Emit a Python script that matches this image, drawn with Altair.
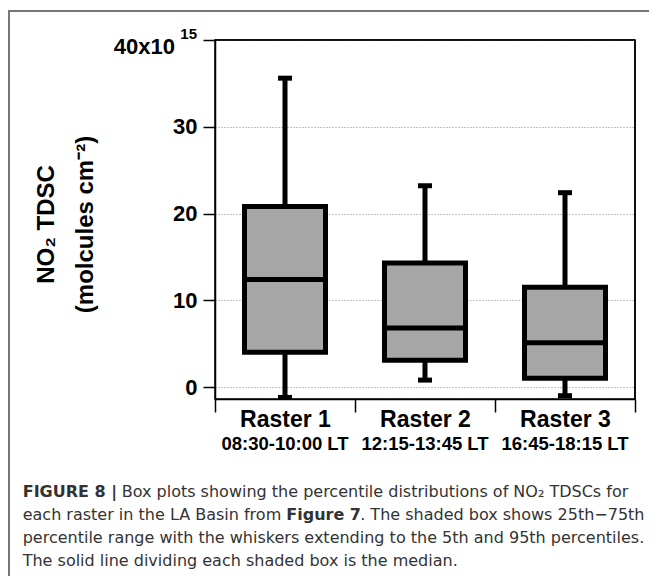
import altair as alt
import pandas as pd

# ---- data ----
rasters = ["Raster 1", "Raster 2", "Raster 3"]
times = ["08:30-10:00 LT", "12:15-13:45 LT", "16:45-18:15 LT"]
p5 = [-1.2, 0.8, -1.0]
p25 = [4.0, 3.1, 1.0]
p50 = [12.4, 6.8, 5.1]
p75 = [20.8, 14.3, 11.5]
p95 = [35.6, 23.2, 22.4]
y_ticks = [0, 10, 20, 30, 40]
y_title = ["NO₂ TDSC", "(molcules cm⁻²)"]
top_label = ["40x10", "15"]
caption_bold = ["FIGURE 8 |", "Figure 7"]
caption_text = [
    "Box plots showing the percentile distributions of NO₂ TDSCs for",
    "each raster in the LA Basin from",
    ". The shaded box shows 25th−75th",
    "percentile range with the whiskers extending to the 5th and 95th percentiles.",
    "The solid line dividing each shaded box is the median.",
]

df = pd.DataFrame({"raster": rasters, "time": times, "p5": p5, "p25": p25,
                   "p50": p50, "p75": p75, "p95": p95})

FONT = "Liberation Sans"
CAPFONT = "DejaVu Sans"
W, H = 420, 359
PADL, PADT, PADR, PADB = 207, 32, 14, 177

xenc = alt.X("raster:N", sort=rasters,
             scale=alt.Scale(paddingInner=0, paddingOuter=0),
             axis=alt.Axis(title=None, labelAngle=0, labelFont=FONT, labelFontSize=23,
                           labelFontWeight="bold", labelColor="black", labelPadding=-4,
                           tickSize=13, tickBand="extent", tickColor="black", tickWidth=1.5,
                           domainColor="black", domainWidth=1.5, grid=False))
yscale = alt.Scale(domain=[-1.38, 40], nice=False, zero=False)
yaxis = alt.Axis(title=y_title, values=y_ticks,
                 labelExpr="datum.value == 40 ? '' : datum.label",
                 labelFont=FONT, labelFontSize=22, labelFontWeight="bold", labelColor="black",
                 labelPadding=6, tickSize=12, tickColor="black", tickWidth=1.5,
                 domainColor="black", domainWidth=1.5,
                 grid=True, gridColor="#888888", gridDash=[1, 2], gridWidth=1,
                 titleFont=FONT, titleFontSize=24, titleFontWeight="bold", titleColor="black",
                 titleAngle=-90, titleX=-162, titleY=184, titleBaseline="alphabetic",
                 titleLineHeight=39, titleAlign="center")

base = alt.Chart(df)
whisker = base.mark_rule(color="black", strokeWidth=5).encode(
    x=xenc, y=alt.Y("p5:Q", scale=yscale, axis=yaxis), y2="p95:Q")
box = base.mark_bar(size=81, fill="#a6a6a6", stroke="black", strokeWidth=5).encode(
    x=xenc, y="p25:Q", y2="p75:Q")
median = base.mark_tick(size=81, thickness=5, color="black", opacity=1).encode(x=xenc, y="p50:Q")
cap_lo = base.mark_tick(size=14, thickness=5, color="black", opacity=1).encode(x=xenc, y="p5:Q")
cap_hi = base.mark_tick(size=14, thickness=5, color="black", opacity=1).encode(x=xenc, y="p95:Q")
time_lbl = base.mark_text(font=FONT, fontSize=18.5, fontWeight="bold", color="black",
                          baseline="alphabetic").encode(x=xenc, y=alt.value(410), text="time:N")

lab40 = alt.Chart(pd.DataFrame({"t": [top_label[0]]})).mark_text(
    font=FONT, fontSize=22, fontWeight="bold", color="black", align="right",
    baseline="alphabetic", dy=14).encode(x=alt.value(-40), y=alt.Y(datum=40), text="t:N")
lab15 = alt.Chart(pd.DataFrame({"t": [top_label[1]]})).mark_text(
    font=FONT, fontSize=15, fontWeight="bold", color="black", align="right",
    baseline="alphabetic", dy=-1).encode(x=alt.value(-18), y=alt.Y(datum=40), text="t:N")

one = pd.DataFrame({"k": [0]})
frame_left = alt.Chart(one).mark_rule(color="#777777", strokeWidth=2).encode(
    x=alt.value(-PADL + 1), y=alt.value(-29), y2=alt.value(H + PADB))
frame_top = alt.Chart(one).mark_rule(color="#777777", strokeWidth=2).encode(
    x=alt.value(-PADL), x2=alt.value(W + PADR), y=alt.value(-29))
plot_top = alt.Chart(one).mark_rule(color="black", strokeWidth=1.5).encode(
    x=alt.value(0), x2=alt.value(W), y=alt.value(0))
plot_right = alt.Chart(one).mark_rule(color="black", strokeWidth=1.5).encode(
    x=alt.value(W), y=alt.value(0), y2=alt.value(H))


def cap(text, x, y, bold=False):
    return alt.Chart(pd.DataFrame({"t": [text]})).mark_text(
        font=CAPFONT, fontSize=16, fontWeight="bold" if bold else "normal",
        color="#333333", align="left", baseline="alphabetic").encode(
        x=alt.value(x), y=alt.value(y), text="t:N")

cx = 22.7 - 215
ly = [497 - 40, 520 - 40, 543 - 40, 566 - 40]
captions = [
    cap(caption_bold[0], cx, ly[0], True),
    cap(caption_text[0], cx + 99, ly[0]),
    cap(caption_text[1], cx, ly[1]),
    cap(caption_bold[1], cx + 263.6, ly[1], True),
    cap(caption_text[2], cx + 263.6 + 73.9, ly[1]),
    cap(caption_text[3], cx, ly[2]),
    cap(caption_text[4], cx, ly[3]),
]

chart = alt.layer(whisker, box, median, cap_lo, cap_hi, time_lbl, lab40, lab15,
                  plot_top, plot_right, frame_left, frame_top, *captions).properties(
    width=W, height=H,
    padding={"left": PADL, "top": PADT, "right": PADR, "bottom": PADB},
    autosize=alt.AutoSizeParams(type="none"),
    background="white",
).configure_view(stroke="black", strokeWidth=1.5)

chart.save("out.html", embed_options={"renderer": "svg", "actions": False})
